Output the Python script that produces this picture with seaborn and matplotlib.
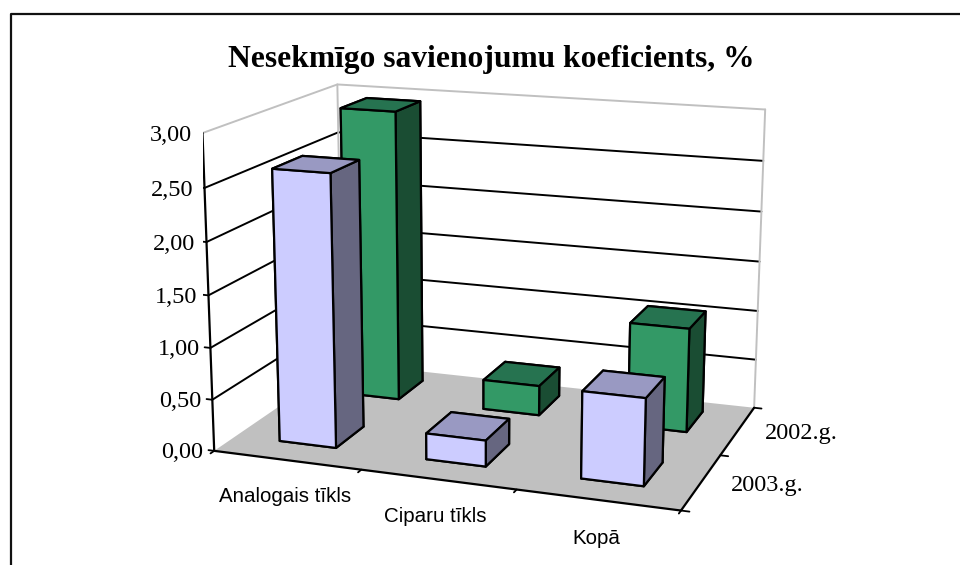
import matplotlib

matplotlib.use('Agg')
import matplotlib.pyplot as plt
from matplotlib.lines import Line2D
from mpl_toolkits.mplot3d.art3d import Poly3DCollection
import seaborn as sns

categories = ["Analogais tīkls", "Ciparu tīkls", "Kopā"]
series_names = ["2003.g.", "2002.g."]
values_2003 = [2.62, 0.25, 0.82]
values_2002 = [2.93, 0.30, 1.03]
z_ticks = [0.0, 0.5, 1.0, 1.5, 2.0, 2.5, 3.0]

sns.set_style("white")
fig = plt.figure(figsize=(9.6, 5.65), dpi=100)
ax = fig.add_axes([5.725 / 960, -3.035 / 565, 1, 1], projection='3d', computed_zorder=False)
ax.set_xlim(0, 3, view_margin=0)
ax.set_ylim(0, 2, view_margin=0)
ax.set_zlim(0, 3, view_margin=0)
ax.view_init(elev=14.633, azim=-70.470, roll=-0.081)
ax.set_proj_type('persp', focal_length=0.637)
ax.set_box_aspect((1, 0.661, 0.672), zoom=1.117)

floor_color = "#c0c0c0"
ax.add_collection3d(Poly3DCollection([[(0, 0, 0), (3, 0, 0), (3, 2, 0), (0, 2, 0)]],
                                     facecolor=floor_color, edgecolor="none", zorder=1))
for z in z_ticks:
    color = floor_color if z == 3.0 else "k"
    if z > 0:
        ax.plot([0, 0, 3], [0, 2, 2], [z, z, z], color=color, lw=1.4, zorder=2)
ax.plot([0, 0], [2, 2], [0, 3], color=floor_color, lw=1.4, zorder=2)
ax.plot([3, 3], [2, 2], [0, 3], color=floor_color, lw=1.4, zorder=2)

ax.plot([0, 0], [0, 0], [0, 3], color="k", lw=1.6, zorder=3)
ax.plot([0, 3, 3], [0, 0, 2], [0, 0, 0], color="k", lw=1.6, zorder=3)
for z in z_ticks:
    ax.plot([-0.04, 0], [0, 0], [z, z], color="k", lw=1.3, zorder=3)
    ax.text(-0.075, 0, z - 0.03, f"{z:.2f}".replace(".", ","), ha='right', va='center', fontsize=17.5,
            color="k", family='Liberation Serif', zorder=5)
for x in range(4):
    ax.plot([x, x], [-0.05, 0], [0, 0], color="k", lw=1.3, zorder=3)
for y in range(3):
    ax.plot([3, 3.05], [y, y], [0, 0], color="k", lw=1.3, zorder=3)

label_x = [0.76, 1.70, 2.66]
for lx, name in zip(label_x, categories):
    ax.text(lx, -0.57, 0, name, ha='center', va='center', fontsize=14.8,
            color="k", family='Liberation Sans', zorder=5)
for j, name in enumerate(series_names):
    ax.text(3.18, j + 0.5, 0, name, ha='left', va='center', fontsize=17.5,
            color="k", family='Liberation Serif', zorder=5)

bar_w = 0.39
bar_d = 0.44
row_centers = [0.53, 1.58]
lilac = ["#ccccff", "#9999c2", "#ccccff", "#ccccff", "#666680", "#666680"]
green = ["#339966", "#267350", "#339966", "#339966", "#1a4d33", "#1a4d33"]
for row, vals, colors, order in ((1, values_2002, green, 10), (0, values_2003, lilac, 20)):
    for i, v in enumerate(vals):
        ax.bar3d(i + 0.5 - bar_w / 2, row_centers[row] - bar_d / 2, 0, bar_w, bar_d, v, color=colors,
                 shade=False, edgecolor="k", linewidth=1.6, zorder=order + i)

ax.set_axis_off()
fig.text(491.5 / 960, 1 - 60 / 565, "Nesekmīgo savienojumu koeficients, %", ha='center', va='center',
         fontsize=22.7, fontweight='bold', color="k", family='Liberation Serif')
# outer frame: only left and top edges are visible in the picture
fig.add_artist(Line2D([10.5 / 960, 10.5 / 960, 1], [0, 1 - 14 / 565, 1 - 14 / 565], color="#111111", lw=1.6))
fig.savefig("out.png", dpi=100)
